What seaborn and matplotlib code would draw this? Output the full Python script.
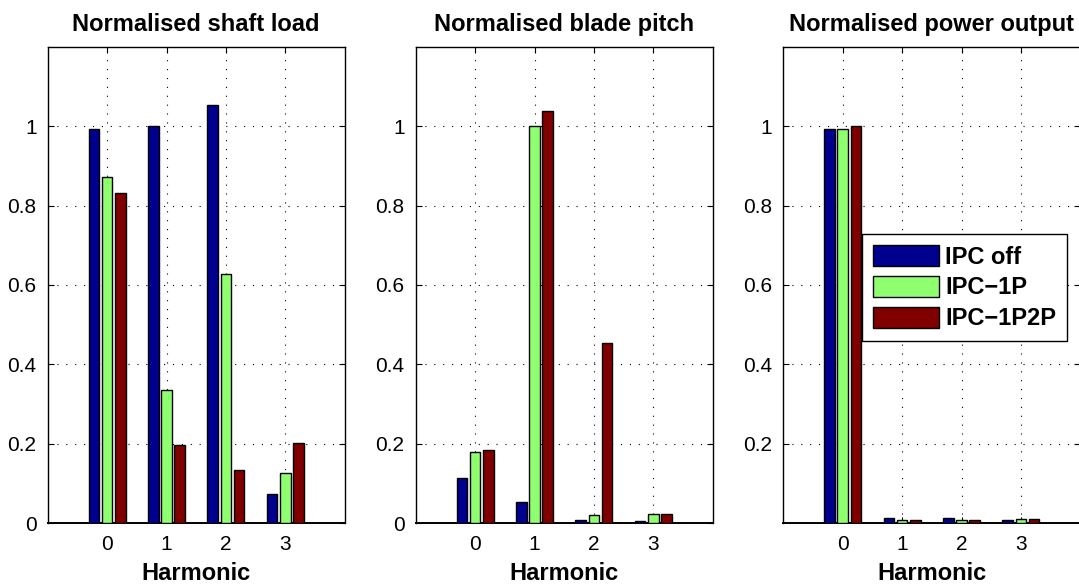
import numpy as np
import pandas as pd
import matplotlib
matplotlib.use("Agg")
import matplotlib.pyplot as plt
import seaborn as sns

harmonics = ["0", "1", "2", "3"]
series = ["IPC off", "IPC\u22121P", "IPC\u22121P2P"]
colors = ["#00008F", "#8FFF70", "#800000"]

titles = ["Normalised shaft load", "Normalised blade pitch", "Normalised power output"]

shaft_ipc_off = [0.992, 1.000, 1.053, 0.074]
shaft_ipc_1p = [0.873, 0.336, 0.628, 0.127]
shaft_ipc_1p2p = [0.831, 0.196, 0.133, 0.202]

pitch_ipc_off = [0.113, 0.053, 0.008, 0.005]
pitch_ipc_1p = [0.180, 1.000, 0.020, 0.024]
pitch_ipc_1p2p = [0.185, 1.037, 0.455, 0.023]

power_ipc_off = [0.992, 0.013, 0.014, 0.008]
power_ipc_1p = [0.992, 0.009, 0.008, 0.011]
power_ipc_1p2p = [1.000, 0.009, 0.009, 0.010]

panels = [
    [shaft_ipc_off, shaft_ipc_1p, shaft_ipc_1p2p],
    [pitch_ipc_off, pitch_ipc_1p, pitch_ipc_1p2p],
    [power_ipc_off, power_ipc_1p, power_ipc_1p2p],
]

sns.set_theme(style="white")
plt.rcParams["font.family"] = ["Liberation Sans", "DejaVu Sans"]
plt.rcParams["text.color"] = "black"
plt.rcParams["axes.labelcolor"] = "black"
plt.rcParams["xtick.color"] = "black"
plt.rcParams["ytick.color"] = "black"

W, H = 1079, 585
fig = plt.figure(figsize=(W / 100, H / 100), dpi=100)

lefts = [47.7, 415.7, 783.3]
axw = 297.0
top_px, bottom_px = 46.7, 523.3

for i, (vals, title) in enumerate(zip(panels, titles)):
    ax = fig.add_axes([lefts[i] / W, (H - bottom_px) / H, axw / W, (bottom_px - top_px) / H])
    rows = []
    for s, v in zip(series, vals):
        for h, val in zip(harmonics, v):
            rows.append({"Harmonic": h, "Series": s, "Value": val})
    df = pd.DataFrame(rows)
    sns.barplot(data=df, x="Harmonic", y="Value", hue="Series", order=harmonics,
                hue_order=series, palette=colors, width=0.667, gap=0.19,
                edgecolor="black", linewidth=1.0, saturation=1, ax=ax,
                legend=(i == 2), zorder=3)
    ax.set_xlim(-1, 4)
    ax.set_ylim(0, 1.2)
    if i == 2:
        ax.set_yticks([0.2, 0.4, 0.6, 0.8, 1.0])
        ax.set_yticklabels(["0.2", "0.4", "0.6", "0.8", "1"])
    else:
        ax.set_yticks([0, 0.2, 0.4, 0.6, 0.8, 1.0])
        ax.set_yticklabels(["0", "0.2", "0.4", "0.6", "0.8", "1"])
    ax.set_xticks(range(4))
    ax.set_xticklabels(harmonics)
    ax.grid(True, linestyle=(0, (1, 7)), color="black", linewidth=0.8, zorder=0)
    ax.set_axisbelow(True)
    for sp in ax.spines.values():
        sp.set_visible(True)
        sp.set_color("black")
        sp.set_linewidth(1.0)
    ax.spines["bottom"].set_linewidth(1.4)
    ax.tick_params(direction="in", length=4, width=0.8, colors="black",
                   labelsize=15, top=True, right=True, bottom=True, left=True, pad=8)
    ax.tick_params(axis="x", pad=8.5)
    ax.set_xlabel("Harmonic", fontsize=17, fontweight="bold", labelpad=5.5, color="black")
    ax.set_ylabel("")
    ax.set_title(title, fontsize=17, fontweight="bold", pad=11, color="black")
    if i == 2:
        handles, labels = ax.get_legend_handles_labels()
        leg = ax.legend(handles, labels, loc="upper left", bbox_to_anchor=(0.266, 0.606),
                        borderaxespad=0, frameon=True, fancybox=False, edgecolor="black",
                        framealpha=1, prop={"weight": "bold", "size": 17},
                        handlelength=2.78, handleheight=1.0, handletextpad=0.28,
                        labelspacing=0.3, borderpad=0.45)
        leg.get_frame().set_linewidth(1.0)
        for t in leg.get_texts():
            t.set_color("black")

fig.savefig("out.png", dpi=100)
